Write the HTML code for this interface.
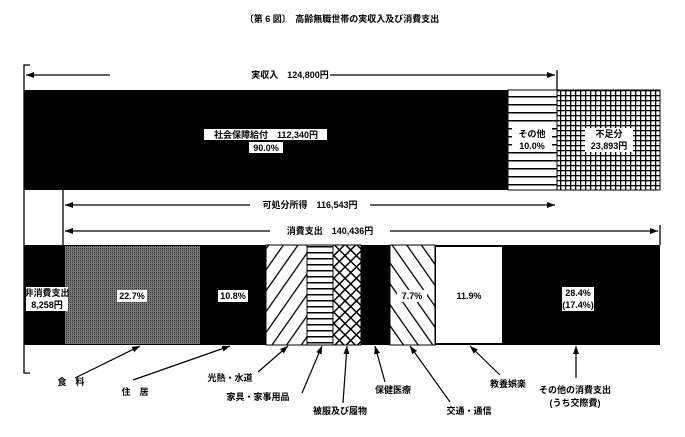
<!DOCTYPE html>
<html><head><meta charset="utf-8"><style>
body{margin:0;background:#fff}
svg{display:block}
text{font-family:"Liberation Sans","Noto Sans CJK JP",sans-serif;font-weight:bold;font-size:9px;fill:#000}
</style></head><body>
<svg width="685" height="437" viewBox="0 0 685 437" xmlns="http://www.w3.org/2000/svg">
<defs>
<pattern id="hs" width="10" height="8" patternUnits="userSpaceOnUse"><rect width="10" height="8" fill="#fff"/><rect y="0" width="10" height="1.5" fill="#000"/></pattern>
<pattern id="hs2" width="10" height="6" patternUnits="userSpaceOnUse"><rect width="10" height="6" fill="#fff"/><rect y="0" width="10" height="1.5" fill="#000"/></pattern>
<pattern id="grid" width="5" height="5" patternUnits="userSpaceOnUse"><rect width="5" height="5" fill="#fff"/><rect width="5" height="1.3" fill="#000"/><rect width="1.3" height="5" fill="#000"/></pattern>
<pattern id="grey" width="2" height="2" patternUnits="userSpaceOnUse"><rect width="2" height="2" fill="#777"/><rect width="1" height="1" fill="#333"/></pattern>
<pattern id="d1" width="12" height="12" patternUnits="userSpaceOnUse" patternTransform="rotate(35)"><rect width="12" height="12" fill="#fff"/><rect width="1.3" height="12" fill="#000"/></pattern>
<pattern id="d2" width="12" height="12" patternUnits="userSpaceOnUse" patternTransform="rotate(-35)"><rect width="12" height="12" fill="#fff"/><rect width="1.3" height="12" fill="#000"/></pattern>
<pattern id="x" width="8" height="8" patternUnits="userSpaceOnUse" patternTransform="rotate(45)"><rect width="8" height="8" fill="#fff"/><rect width="1.5" height="8" fill="#000"/><rect width="8" height="1.5" fill="#000"/></pattern>
<marker id="ah" markerWidth="8" markerHeight="6" refX="8" refY="3" orient="auto" markerUnits="userSpaceOnUse"><path d="M0,0 L8,3 L0,6z" fill="#000"/></marker>
</defs>
<text x="342" y="22" text-anchor="middle" font-size="10">〔第 6 図〕　高齢無職世帯の実収入及び消費支出</text>
<g stroke="#000" stroke-width="1.3" fill="none">
<path d="M30,65 H24 V373 H30"/>
<path d="M24,284 H30"/>
<line x1="557" y1="70" x2="557" y2="90"/>
<line x1="63" y1="190" x2="63" y2="245"/>
<line x1="660" y1="225" x2="660" y2="245"/>
<line x1="110" y1="75" x2="26" y2="75" marker-end="url(#ah)"/>
<line x1="330" y1="75" x2="555" y2="75" marker-end="url(#ah)"/>
<line x1="250" y1="205" x2="65" y2="205" marker-end="url(#ah)"/>
<line x1="370" y1="205" x2="555" y2="205" marker-end="url(#ah)"/>
<line x1="270" y1="231" x2="65" y2="231" marker-end="url(#ah)"/>
<line x1="390" y1="231" x2="658" y2="231" marker-end="url(#ah)"/>
</g>
<rect x="250" y="69" width="80" height="12" fill="#fff"/>
<text x="290" y="78" text-anchor="middle">実収入　124,800円</text>
<rect x="250" y="199" width="120" height="12" fill="#fff"/>
<text x="310" y="208" text-anchor="middle">可処分所得　116,543円</text>
<rect x="270" y="225" width="120" height="12" fill="#fff"/>
<text x="330" y="234" text-anchor="middle">消費支出　140,436円</text>
<rect x="24" y="90" width="484" height="100" fill="#000"/>
<rect x="508" y="90" width="49" height="100" fill="url(#hs)" stroke="#000"/>
<rect x="557" y="90" width="103" height="100" fill="url(#grid)" stroke="#000"/>
<rect x="204" y="129" width="123" height="11" fill="#fff"/>
<text x="266" y="138" text-anchor="middle">社会保障給付　112,340円</text>
<rect x="249" y="142" width="34" height="11" fill="#fff"/>
<text x="266" y="151" text-anchor="middle">90.0%</text>
<rect x="512" y="128" width="40" height="24" fill="#fff"/>
<text x="532" y="137" text-anchor="middle">その他</text>
<text x="532" y="149" text-anchor="middle">10.0%</text>
<rect x="585" y="128" width="48" height="24" fill="#fff"/>
<text x="609" y="137" text-anchor="middle">不足分</text>
<text x="609" y="149" text-anchor="middle">23,893円</text>
<rect x="24" y="245" width="636" height="100" fill="#000"/>
<rect x="65" y="246" width="135" height="98" fill="url(#grey)"/>
<rect x="266" y="245" width="41" height="100" fill="url(#d1)" stroke="#000"/>
<rect x="307" y="245" width="26" height="100" fill="url(#hs2)" stroke="#000"/>
<rect x="333" y="245" width="28" height="100" fill="url(#x)" stroke="#000"/>
<rect x="390" y="245" width="45" height="100" fill="url(#d2)" stroke="#000"/>
<rect x="436" y="247" width="66" height="96" fill="#fff"/>
<rect x="26" y="287" width="42" height="24" fill="#fff"/>
<text x="47" y="296" text-anchor="middle">非消費支出</text>
<text x="47" y="308" text-anchor="middle">8,258円</text>
<rect x="117" y="290" width="30" height="12" fill="#fff"/>
<text x="132" y="299" text-anchor="middle">22.7%</text>
<rect x="218" y="290" width="30" height="12" fill="#fff"/>
<text x="233" y="299" text-anchor="middle">10.8%</text>
<rect x="397" y="290" width="30" height="12" fill="#fff"/>
<text x="412" y="299" text-anchor="middle">7.7%</text>
<text x="469" y="299" text-anchor="middle">11.9%</text>
<rect x="562" y="287" width="32" height="24" fill="#fff"/>
<text x="578" y="296" text-anchor="middle">28.4%</text>
<text x="578" y="308" text-anchor="middle">(17.4%)</text>
<g stroke="#000" stroke-width="1.2">
<line x1="75" y1="378" x2="140" y2="346" marker-end="url(#ah)"/>
<line x1="133" y1="380" x2="230" y2="346" marker-end="url(#ah)"/>
<line x1="258" y1="372" x2="288" y2="346" marker-end="url(#ah)"/>
<line x1="302" y1="393" x2="322" y2="346" marker-end="url(#ah)"/>
<line x1="343" y1="403" x2="347" y2="346" marker-end="url(#ah)"/>
<line x1="385" y1="382" x2="375" y2="346" marker-end="url(#ah)"/>
<line x1="450" y1="402" x2="410" y2="346" marker-end="url(#ah)"/>
<line x1="500" y1="375" x2="470" y2="346" marker-end="url(#ah)"/>
<line x1="576" y1="378" x2="576" y2="346" marker-end="url(#ah)"/>
</g>
<text x="71" y="385" text-anchor="middle">食　料</text>
<text x="135" y="395" text-anchor="middle">住　居</text>
<text x="230" y="381" text-anchor="middle">光熱・水道</text>
<text x="258" y="400" text-anchor="middle">家具・家事用品</text>
<text x="340" y="414" text-anchor="middle">被服及び履物</text>
<text x="393" y="393" text-anchor="middle">保健医療</text>
<text x="469" y="414" text-anchor="middle">交通・通信</text>
<text x="508" y="387" text-anchor="middle">教養娯楽</text>
<text x="575" y="393" text-anchor="middle">その他の消費支出</text>
<text x="575" y="406" text-anchor="middle">(うち交際費)</text>
</svg>
</body></html>
